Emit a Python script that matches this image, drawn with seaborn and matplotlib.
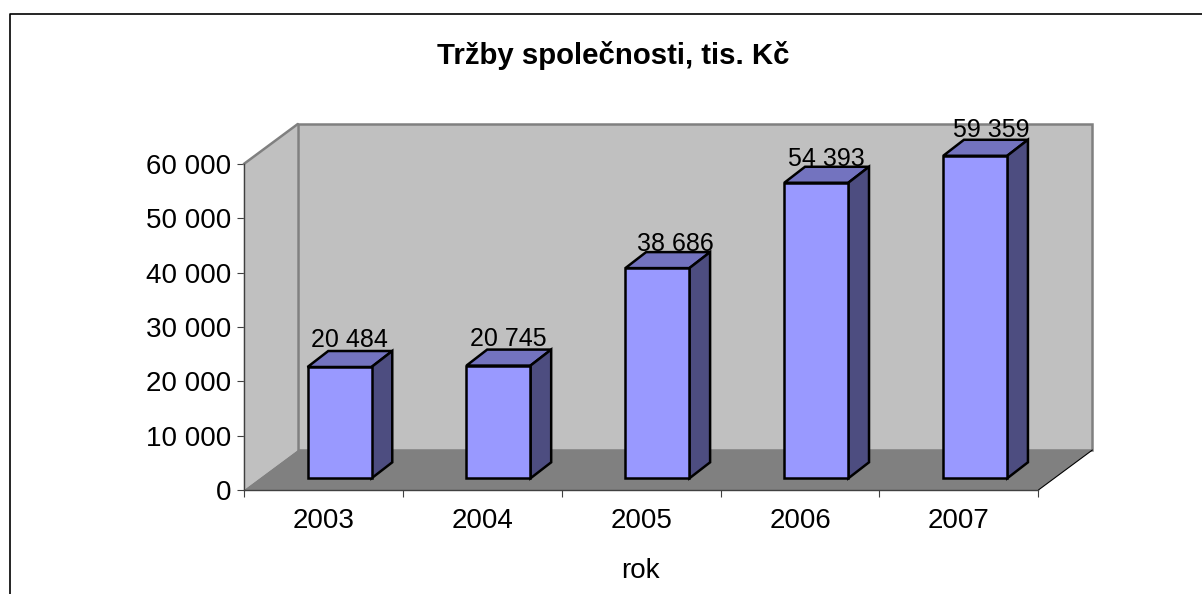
import matplotlib
matplotlib.use("Agg")
import matplotlib.pyplot as plt
import seaborn as sns
import pandas as pd
from matplotlib.patches import Polygon, Rectangle

years = ["2003", "2004", "2005", "2006", "2007"]
sales = [20484, 20745, 38686, 54393, 59359]
value_labels = ["20 484", "20 745", "38 686", "54 393", "59 359"]
y_ticks = [0, 10000, 20000, 30000, 40000, 50000, 60000]
y_tick_labels = ["0", "10 000", "20 000", "30 000", "40 000", "50 000", "60 000"]
title = "Tržby společnosti, tis. Kč"
x_title = "rok"

W, H = 1202, 594
L, R, T, B = 243.8, 1038.4, 164.0, 490.0   # plot box in pixels
label_nudge_px = [(0, 0), (0, 0), (8, -3), (0, -3), (6, -1)]

sns.set_theme(style="white")
plt.rcParams["font.family"] = ["Liberation Sans", "DejaVu Sans"]
plt.rcParams["text.color"] = "black"
plt.rcParams["xtick.labelcolor"] = "black"
plt.rcParams["ytick.labelcolor"] = "black"

fig = plt.figure(figsize=(W / 100, H / 100), dpi=100, facecolor="white")
ax = fig.add_axes([L / W, 1 - B / H, (R - L) / W, (B - T) / H])
df = pd.DataFrame({"year": years, "sales": sales})

px_x = 5 / (R - L)       # categories per pixel
bar_w = 64 * px_x
BAR_LW = 1.8
sns.barplot(data=df, x="year", y="sales", ax=ax, color="#9999FF", saturation=1,
            width=bar_w, edgecolor="black", linewidth=BAR_LW, zorder=5, errorbar=None)
bars = list(ax.patches)

ax.set_xlim(-0.5, 4.5)
ax.set_ylim(0, 60000)
px_y = 60000 / (B - T)   # value units per pixel

# wall / floor depth
dx, dy = 54 * px_x, 40 * px_y
wall = "#C0C0C0"
edge = "#808080"
ax.add_patch(Polygon([(-.5, 0), (-.5 + dx, dy), (-.5 + dx, 60000 + dy), (-.5, 60000)],
                     fc=wall, ec="none", clip_on=False, zorder=1))
ax.add_patch(Rectangle((-.5 + dx, dy), 5, 60000, fc=wall, ec=edge, lw=1.8, clip_on=False, zorder=1.2))
ax.plot([-.5, -.5 + dx], [60000, 60000 + dy], color=edge, lw=1.8, clip_on=False, zorder=1.3)
ax.add_patch(Polygon([(-.5, 0), (4.5, 0), (4.5 + dx, dy), (-.5 + dx, dy)],
                     fc=edge, ec="none", clip_on=False, zorder=2))
ax.plot([4.5, 4.5 + dx], [0, dy], color="black", lw=0.8, clip_on=False, zorder=2.5)

# bars: pushed into the box, with top and side faces
off_x, off_y = 16.3 * px_x, 11.7 * px_y
bx, by = 20.7 * px_x, 16 * px_y
for bar, v, lab, (nx, ny) in zip(bars, sales, value_labels, label_nudge_px):
    x0 = bar.get_x() + off_x
    bar.set_x(x0)
    bar.set_y(off_y)
    bar.set_clip_on(False)
    bar.set_joinstyle("miter")
    x1 = x0 + bar.get_width()
    top = off_y + v
    ax.add_patch(Polygon([(x0, top), (x1, top), (x1 + bx, top + by), (x0 + bx, top + by)],
                         fc="#7373BF", ec="black", lw=BAR_LW, clip_on=False, zorder=4.5))
    ax.add_patch(Polygon([(x1, off_y), (x1 + bx, off_y + by), (x1 + bx, top + by), (x1, top)],
                         fc="#4D4D80", ec="black", lw=BAR_LW, clip_on=False, zorder=4.5))
    ax.text((x0 + x1) / 2 + bx / 2 - 0.3 * px_x + nx * px_x, top + by - 1 * px_y + ny * px_y, lab,
            ha="center", va="bottom", fontsize=18, color="black", clip_on=False, zorder=6)

for s in ("top", "right"):
    ax.spines[s].set_visible(False)
for s in ("left", "bottom"):
    ax.spines[s].set_visible(True)
    ax.spines[s].set_color("#404040")
    ax.spines[s].set_linewidth(1.0)
    ax.spines[s].set_zorder(3)

ax.set_yticks(y_ticks)
ax.set_yticklabels(y_tick_labels, fontsize=20)
ax.set_xticks([-.5, .5, 1.5, 2.5, 3.5, 4.5])
ax.set_xticklabels([])
ax.tick_params(axis="both", length=5, width=0.8, color="#404040", left=True, bottom=True)
ax.tick_params(axis="y", pad=4)
for i, y in enumerate(years):
    ax.annotate(y, (i, 0), xytext=(0, -31), xycoords=("data", "data"), textcoords="offset pixels",
                ha="center", va="center", fontsize=20, annotation_clip=False)
ax.set_ylabel("")
ax.set_xlabel("")
fig.text(640.5 / W, 1 - 571 / H, x_title, ha="center", va="center", fontsize=20)
fig.text(613 / W, 1 - 56 / H, title, ha="center", va="center", fontsize=21.2, fontweight="bold")

# chart-area border, cut by the picture edge
fig.add_artist(plt.Line2D([10.5 / W, 10.5 / W, 1], [0, 1 - 13.5 / H, 1 - 13.5 / H],
                          color="black", lw=1.2))
fig.savefig("out.png", dpi=100, facecolor="white")
